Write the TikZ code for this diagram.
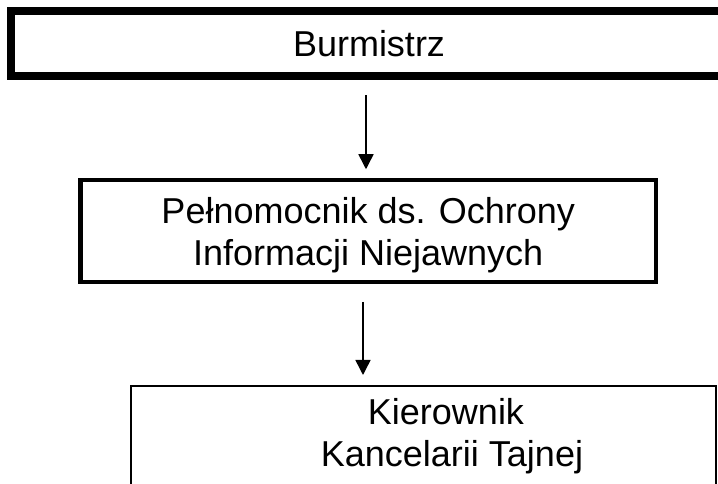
\documentclass[tikz,border=0pt]{standalone}
\usepackage{fontspec}
\setmainfont{Liberation Sans}
\usetikzlibrary{arrows.meta,calc}
\begin{document}
\begin{tikzpicture}[x=1pt,y=1pt,
  lbl/.style={font=\fontsize{36}{42}\selectfont, align=center},
  boxa/.style={draw, line width=8pt, inner sep=0pt, minimum width=716pt, minimum height=65pt, lbl},
  boxb/.style={draw, line width=4.5pt, inner sep=0pt, minimum width=575.5pt, minimum height=102pt},
  boxc/.style={draw, line width=2pt, inner sep=0pt, minimum width=585pt, minimum height=138pt},
  arr/.style={line width=1.5pt, -{Triangle[width=15pt,length=15pt]}}
]
\useasboundingbox (0,0) rectangle (718,484);
\fill[white] (0,0) rectangle (718,484);
\node[boxa] (top) at (369,440) {Burmistrz};
\node[boxb] (mid) at (368.25,253) {};
\node[lbl] (midt) at ($(mid.center)+(0,-4)$) {Pełnomocnik ds. Ochrony\\Informacji Niejawnych};
\node[boxc] (bot) at (423.5,29) {};
\node[lbl, anchor=base] (k1) at (446,59) {Kierownik};
\node[lbl, anchor=base] (k2) at (452,17) {Kancelarii Tajnej};
\coordinate (c1) at (366,0);
\coordinate (c2) at (363,0);
\draw[arr, shorten <=15pt, shorten >=8.5pt] (top.south -| c1) -- (mid.north -| c1);
\draw[arr, shorten <=17.75pt, shorten >=10pt] (mid.south -| c2) -- (bot.north -| c2);
\end{tikzpicture}
\end{document}
